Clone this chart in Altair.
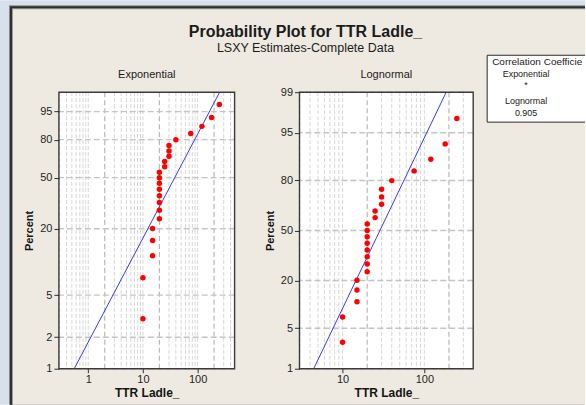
import math
from statistics import NormalDist
import pandas as pd
import altair as alt

FONT = "Liberation Sans"

# ---- data ----
ttr_ladle = [10, 10, 15, 15, 15, 20, 20, 20, 20, 20, 20, 20, 20, 25, 25, 30, 30, 30, 40, 75, 120, 180, 250]
percent = [2.99, 7.26, 11.54, 15.81, 20.09, 24.36, 28.63, 32.91, 37.18, 41.45, 45.73, 50.00,
           54.27, 58.55, 62.82, 67.09, 71.37, 75.64, 79.91, 84.19, 88.46, 92.74, 97.01]

exp_fit_ttr = [0.553, 253.0]
exp_fit_pct = [1, 99]
logn_fit_ttr = [4.43, 185.0]
logn_fit_pct = [1, 99]

exp_pct_ticks = [1, 2, 5, 20, 50, 80, 95]
logn_pct_ticks = [1, 5, 20, 50, 80, 95, 99]
exp_ttr_ticks = [1, 10, 100]
logn_ttr_ticks = [10, 100]
exp_grid_light = [0.3, 0.4, 0.5, 0.6, 0.7, 0.8, 0.9, 1, 3, 4, 5, 6, 7, 8, 9, 10,
                  30, 40, 50, 60, 70, 80, 90, 100, 300, 400]
exp_grid_dark = [2, 20, 200]
logn_grid_light = [3, 4, 5, 6, 7, 8, 9, 10, 30, 40, 50, 60, 70, 80, 90, 100, 300]
logn_grid_dark = [20, 200]

exp_ttr_domain = [0.29, 475]
logn_ttr_domain = [2.97, 396]

corr_header = "Correlation Coefficient"
corr_names = ["Exponential", "*", "Lognormal", "0.905"]

title_text = "Probability Plot for TTR Ladle_"
subtitle_text = "LSXY Estimates-Complete Data"

# ---- probability-scale transforms ----
def exp_t(p):
    return math.log(-math.log(1 - p / 100.0))

def logn_t(p):
    return NormalDist().inv_cdf(p / 100.0)

EXP_EXPR = "log(-log(1 - datum.pct/100))"
LOGN_EXPR = "quantileNormal(datum.pct/100)"
EXP_LABEL = "format((1 - exp(-exp(datum.value))) * 100, '.0f')"
LOGN_LABEL = "format(cumulativeNormal(datum.value) * 100, '.0f')"

H = 277
OX, OY = 59, 92          # left plot origin in the window
WL, WR = 176, 174
SPACING = 65


def one_row():
    return pd.DataFrame({"k": [0]})


def rect(x, x2, y, y2, color):
    return alt.Chart(one_row()).mark_rect(color=color, opacity=1).encode(
        x=alt.value(x), x2=alt.value(x2), y=alt.value(y), y2=alt.value(y2))


def text(s, x, y, size, weight="normal", align="center", **kw):
    return alt.Chart(pd.DataFrame({"t": [s]})).mark_text(
        font=FONT, fontSize=size, fontWeight=weight, align=align,
        baseline="alphabetic", color="#1b1b1b", **kw
    ).encode(x=alt.value(x), y=alt.value(y), text="t:N")


def panel(W, ttr_domain, y_domain, y_expr, label_expr, ttr_ticks, pct_ticks,
          tfun, grid_light, grid_dark, fit_ttr, fit_pct, name):
    xscale = alt.Scale(type="log", domain=ttr_domain, nice=False)
    yscale = alt.Scale(domain=y_domain, nice=False, zero=False)
    xaxis = alt.Axis(values=ttr_ticks, format=".0f", grid=False, domain=False,
                     tickSize=4, labelPadding=1, titlePadding=3, zindex=2)
    yaxis = alt.Axis(values=[tfun(p) for p in pct_ticks], labelExpr=label_expr,
                     grid=False, domain=False, tickSize=5, labelPadding=2,
                     titlePadding=5, zindex=2)
    xenc = alt.X("ttr:Q", scale=xscale, axis=xaxis, title="TTR Ladle_")
    yenc = alt.Y("yt:Q", scale=yscale, axis=yaxis, title="Percent")

    white = rect(0, W, 0, H, "#ffffff")
    gl = alt.Chart(pd.DataFrame({"ttr": grid_light})).mark_rule(
        color="#d6d6d6", strokeDash=[4, 2], strokeWidth=1).encode(x=xenc)
    gd = alt.Chart(pd.DataFrame({"ttr": grid_dark})).mark_rule(
        color="#b8b8b8", strokeDash=[5, 3], strokeWidth=1.2).encode(x=xenc)
    gh = alt.Chart(pd.DataFrame({"pct": pct_ticks})).transform_calculate(
        yt=y_expr).mark_rule(color="#c4c4c4", strokeDash=[6, 3],
                             strokeWidth=1.4).encode(y=yenc)
    fit = alt.Chart(pd.DataFrame({"ttr": fit_ttr, "pct": fit_pct})).transform_calculate(
        yt=y_expr).mark_line(color="#3737ff", strokeWidth=1, clip=True).encode(
        x=xenc, y=yenc)
    pts = alt.Chart(pd.DataFrame({"ttr": ttr_ladle, "pct": percent})).transform_calculate(
        yt=y_expr).mark_circle(color="#ff0000", size=30, opacity=1).encode(
        x=xenc, y=yenc)
    frame = alt.Chart(one_row()).mark_rect(
        fillOpacity=0, stroke="#3a3a3a", strokeWidth=1.4).encode(
        x=alt.value(0), x2=alt.value(W), y=alt.value(0), y2=alt.value(H))
    ptitle = text(name, W / 2, -14, 11)
    return [white, gl, gd, gh, fit, pts, frame, ptitle]


left_layers = panel(WL, exp_ttr_domain, [exp_t(1), exp_t(99)], EXP_EXPR, EXP_LABEL,
                    exp_ttr_ticks, exp_pct_ticks, exp_t, exp_grid_light, exp_grid_dark,
                    exp_fit_ttr, exp_fit_pct, "Exponential")
right_layers = panel(WR, logn_ttr_domain, [logn_t(1), logn_t(99)], LOGN_EXPR, LOGN_LABEL,
                     logn_ttr_ticks, logn_pct_ticks, logn_t, logn_grid_light, logn_grid_dark,
                     logn_fit_ttr, logn_fit_pct, "Lognormal")

# window background (relative to left plot origin)
bg = [
    rect(-OX, 586 - OX, -OY, 405 - OY, "#d7e1ed"),
    rect(9 - OX, 586 - OX, 5 - OY, 405 - OY, "#8c8c8c"),
    rect(10 - OX, 586 - OX, 6 - OY, 405 - OY, "#2e2e2e"),
    rect(12 - OX, 586 - OX, 8 - OY, 405 - OY, "#9a9a9a"),
    rect(13 - OX, 586 - OX, 9 - OY, 405 - OY, "#eeeae1"),
]
titles = [
    text(title_text, 306 - OX, 37 - OY, 16, "bold"),
    text(subtitle_text, 306 - OX, 52 - OY, 12.5),
]

left = alt.layer(*(bg + left_layers + titles)).properties(width=WL, height=H)

# correlation box (relative to right plot origin)
RX = OX + WL + SPACING
bx0, by0, by1 = 488 - RX, 55 - OY, 122 - OY
box = [
    rect(bx0, 586 - RX, by0, by1, "#ffffff"),
    alt.Chart(one_row()).mark_rule(color="#2a2a2a", strokeWidth=1).encode(
        x=alt.value(bx0), y=alt.value(by0), y2=alt.value(by1)),
    alt.Chart(one_row()).mark_rule(color="#2a2a2a", strokeWidth=1).encode(
        x=alt.value(bx0), x2=alt.value(586 - RX), y=alt.value(by0)),
    alt.Chart(one_row()).mark_rule(color="#2a2a2a", strokeWidth=1).encode(
        x=alt.value(bx0), x2=alt.value(586 - RX), y=alt.value(by1)),
    text(corr_header, 493 - RX, 65 - OY, 10, align="left", limit=586 - 492,
         ellipsis="\u200b"),
]
for s, yy in zip(corr_names, [77, 88, 104, 116]):
    box.append(text(s, 527 - RX, yy - OY, 9))

right = alt.layer(*(right_layers + box)).properties(width=WR, height=H)

chart = alt.hconcat(left, right, spacing=SPACING).properties(
    padding=0, bounds="flush"
).configure_view(strokeWidth=0).configure_axis(
    labelFont=FONT, labelFontSize=11, labelColor="#1e1e1e",
    tickColor="#2e2e2e", titleFont=FONT, titleFontWeight="bold",
    titleColor="#141414"
).configure_axisX(titleFontSize=12).configure_axisY(titleFontSize=11)

chart.save("out.html", embed_options={"renderer": "svg", "actions": False})
